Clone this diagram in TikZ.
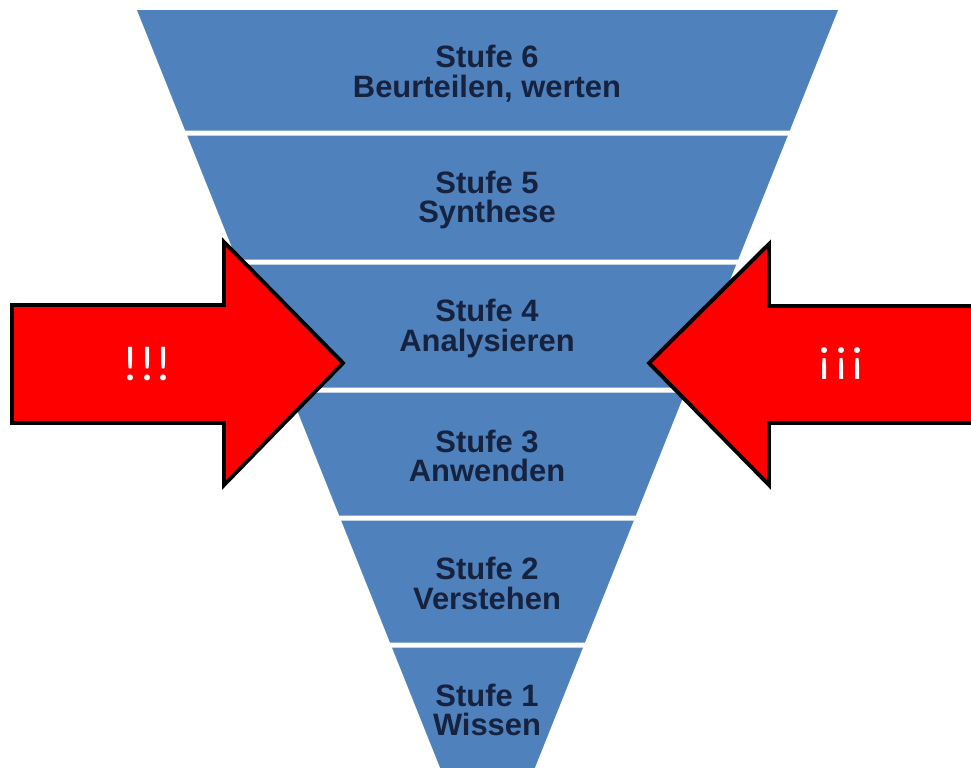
\documentclass[tikz,border=0pt]{standalone}
\usepackage{fontspec}
\setmainfont{Liberation Sans}
\newfontfamily\arrowfont{Carlito}
\definecolor{bandblue}{RGB}{79,129,189}
\definecolor{labelnavy}{RGB}{22,34,62}
\definecolor{arrowred}{RGB}{255,0,0}

\tikzset{band/.style={fill=bandblue},
level label/.style={font=\bfseries\fontsize{17.6}{16.8}\selectfont,text=labelnavy,align=center,inner sep=0pt},
big arrow/.style={fill=arrowred,draw=black,line width=2.2pt,line join=miter},
arrow text/.style={font=\arrowfont\fontsize{28}{30}\selectfont,text=white,inner sep=0pt}}

\begin{document}
\begin{tikzpicture}[x=0.02cm,y=-0.02cm]
\useasboundingbox (0,0) rectangle (971,768);

%% Corners of the funnel bands (top left, top right, bottom right, bottom left)
\coordinate (b6tl) at (137.0,10.0);   \coordinate (b6tr) at (838.0,10.0);
\coordinate (b6br) at (789.8,130.5);  \coordinate (b6bl) at (185.2,130.5);
\coordinate (b5tl) at (187.2,135.5);  \coordinate (b5tr) at (787.8,135.5);
\coordinate (b5br) at (738.2,259.5);  \coordinate (b5bl) at (236.8,259.5);
\coordinate (b4tl) at (238.8,264.5);  \coordinate (b4tr) at (736.2,264.5);
\coordinate (b4br) at (687.0,387.5);  \coordinate (b4bl) at (288.0,387.5);
\coordinate (b3tl) at (290.0,392.5);  \coordinate (b3tr) at (685.0,392.5);
\coordinate (b3br) at (635.8,515.5);  \coordinate (b3bl) at (339.2,515.5);
\coordinate (b2tl) at (341.2,520.5);  \coordinate (b2tr) at (633.8,520.5);
\coordinate (b2br) at (585.0,642.5);  \coordinate (b2bl) at (390.0,642.5);
\coordinate (b1tl) at (392.0,647.5);  \coordinate (b1tr) at (583.0,647.5);
\coordinate (b1br) at (534.8,768.0);  \coordinate (b1bl) at (440.2,768.0);

%% funnel bands
\fill [band] (b6tl) -- (b6tr) -- (b6br) -- (b6bl) -- cycle;
\fill [band] (b5tl) -- (b5tr) -- (b5br) -- (b5bl) -- cycle;
\fill [band] (b4tl) -- (b4tr) -- (b4br) -- (b4bl) -- cycle;
\fill [band] (b3tl) -- (b3tr) -- (b3br) -- (b3bl) -- cycle;
\fill [band] (b2tl) -- (b2tr) -- (b2br) -- (b2bl) -- cycle;
\fill [band] (b1tl) -- (b1tr) -- (b1br) -- (b1bl) -- cycle;

%% level labels
\node [level label] (stufe6) at (487,73.5) {Stufe 6\\Beurteilen, werten};
\node [level label] (stufe5) at (487,200) {Stufe 5\\Synthese};
\node [level label] (stufe4) at (487,328.5) {Stufe 4\\Analysieren};
\node [level label] (stufe3) at (487,456) {Stufe 3\\Anwenden};
\node [level label] (stufe2) at (487,583.5) {Stufe 2\\Verstehen};
\node [level label] (stufe1) at (487,710) {Stufe 1\\Wissen};

%% red arrows
\draw [big arrow] (12,305) -- (224,305) -- (224,242) -- (343,363) -- (224,485)
  -- (224,423) -- (12,423) -- cycle;
\draw [big arrow] (985,306) -- (769,306) -- (769,244) -- (649,363) -- (769,485)
  -- (769,423) -- (985,423) -- cycle;

%% arrow texts
\node [arrow text] (left mark) at (147,364) {!!!};
\node [arrow text] (right mark) at (841,364) {¡¡¡};

\end{tikzpicture}
\end{document}
